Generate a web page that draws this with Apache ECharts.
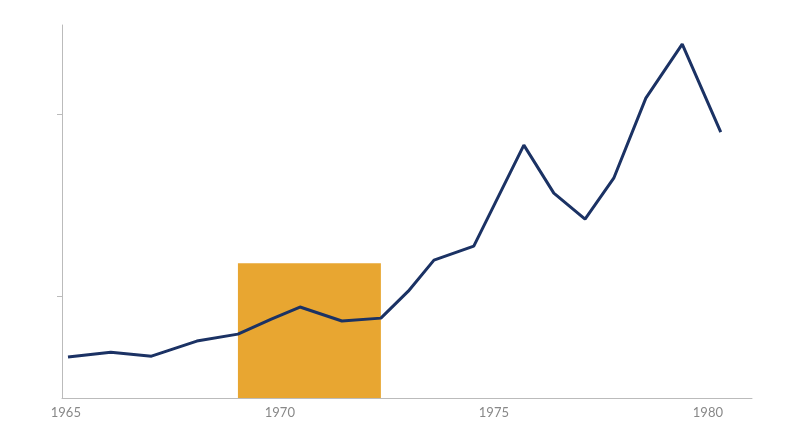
<!DOCTYPE html>
<html><head><meta charset="utf-8">
<script src="https://cdn.jsdelivr.net/npm/echarts@6/dist/echarts.min.js"></script>
<style>html,body{margin:0;background:#fff}#c{width:800px;height:447px}</style>
</head><body><div id="c"></div>
<script>
const years = [1965.05,1966.05,1967.0,1968.06,1969.02,1969.8,1970.47,1971.45,1972.36,1973.0,1973.6,1974.53,1975.7,1976.4,1977.13,1977.8,1978.55,1979.4,1980.3];
const values = [0.665,0.692,0.670,0.753,0.791,0.874,0.940,0.863,0.879,1.027,1.198,1.275,1.830,1.566,1.423,1.648,2.088,2.385,1.901];
const xTickLabels = [1965,1970,1975,1980];
const yTicks = [1,2];
const highlight = {from:1969.02, to:1972.36, top:1.18};
const chart = echarts.init(document.getElementById('c'));
chart.setOption({
  animation:false,
  grid:{left:62,right:48,top:25,bottom:49},
  xAxis:{type:'value',min:1964.91,max:1981.03,
    axisLine:{lineStyle:{color:'#bbb'}},axisTick:{show:false},splitLine:{show:false},
    axisLabel:{customValues:xTickLabels,color:'#888',fontSize:13,fontFamily:'Lato',margin:8,formatter:v=>String(v)}},
  yAxis:{type:'value',min:0.44,max:2.49,
    axisLine:{show:true,lineStyle:{color:'#bbb'}},
    axisTick:{show:true,customValues:yTicks,length:5,lineStyle:{color:'#bbb'}},
    axisLabel:{show:false},splitLine:{show:false}},
  series:[{type:'line',data:years.map((y,i)=>[y,values[i]]),symbol:'none',
    lineStyle:{color:'#1B3264',width:3},
    markArea:{silent:true,itemStyle:{color:'#E8A631',opacity:1},
      data:[[{xAxis:highlight.from,yAxis:0.44},{xAxis:highlight.to,yAxis:highlight.top}]]}}]
});
</script></body></html>
